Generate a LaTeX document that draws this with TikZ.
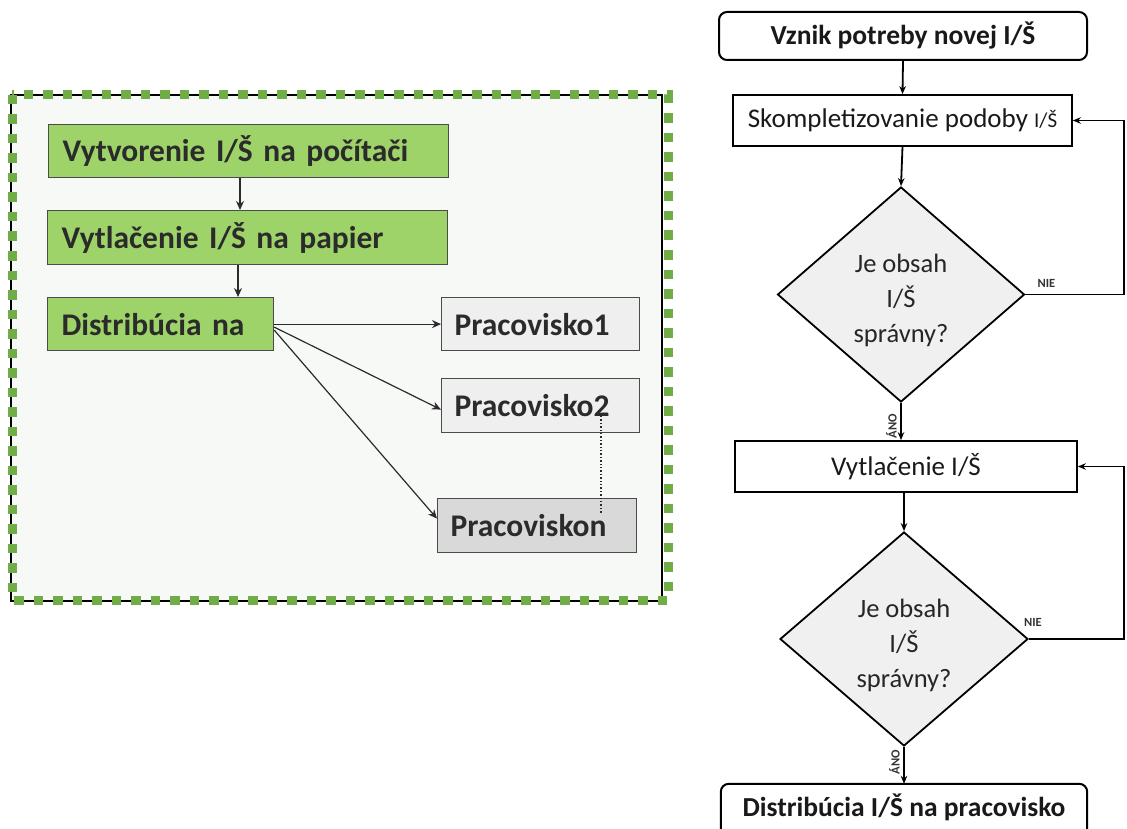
\documentclass[tikz,border=0pt]{standalone}
\usepackage{fontspec}
\setmainfont{Carlito}
\usetikzlibrary{shapes.geometric,arrows.meta,calc}

\definecolor{panelbg}{HTML}{F7F9F7}
\definecolor{leafgreen}{HTML}{9ED36A}
\definecolor{framegreen}{HTML}{70AD47}
\definecolor{inkgray}{HTML}{2B2B2B}
\definecolor{lightbox}{HTML}{EFEFEF}
\definecolor{darkbox}{HTML}{D9D9D9}
\definecolor{diafill}{HTML}{F0F0F0}

\tikzset{
  leftbox/.style={draw=inkgray!85, line width=1.2pt, text=inkgray,
    font=\fontsize{31.5}{36}\selectfont\bfseries, anchor=north west,
    inner xsep=14pt, inner ysep=0pt, align=left},
  greenbox/.style={leftbox, fill=leafgreen},
  workbox/.style={leftbox, fill=lightbox, inner xsep=13pt},
  lastbox/.style={leftbox, fill=darkbox, inner xsep=13pt},
  leftarrow/.style={draw=inkgray, line width=1.2pt, -{Stealth[length=9pt,width=8pt]}},
  flowbox/.style={draw=black, line width=1.7pt, text=black!90, inner sep=0pt,
    font=\fontsize{27}{32}\selectfont},
  termbox/.style={flowbox, rounded corners=8pt, line width=2pt,
    font=\fontsize{27.5}{32}\selectfont\bfseries},
  decision/.style={diamond, draw=black, line width=1.8pt, fill=diafill, inner sep=0pt},
  question/.style={align=center, text=black!85, inner sep=0pt,
    font=\fontsize{26.5}{35}\selectfont},
  flowarrow/.style={draw=black, line width=1.8pt, -{Stealth[length=8pt,width=6.5pt]}},
  looparrow/.style={draw=black, line width=1.7pt, -{Stealth[length=8pt,width=6.5pt]}},
  branch/.style={font=\fontsize{12.5}{13}\selectfont\bfseries, text=black!80, inner sep=0pt},
}

\begin{document}
\begin{tikzpicture}[x=1pt,y=-1pt]
\useasboundingbox (0,0) rectangle (1127,829);
\clip (0,0) rectangle (1127,829);

% ---- left panel: the paper workflow
\fill[panelbg] (11,95) rectangle (662,601);
\draw[black, line width=1.2pt] (11,95) rectangle (662,601);
\draw[framegreen, line width=9pt, dash pattern=on 9.5pt off 10pt] (12,95) rectangle (668,600);

\node[greenbox, minimum width=400pt, minimum height=53pt, text width=372pt]
  (create) at (48,124) {Vytvorenie I/Š na počítači};
\node[greenbox, minimum width=400pt, minimum height=54pt, text width=372pt]
  (print) at (47,210) {Vytlačenie I/Š na papier};
\node[greenbox, minimum width=226pt, minimum height=53pt, text width=198pt]
  (spread) at (47,297) {Distribúcia na};

\node[workbox, minimum width=198pt, minimum height=53pt, text width=172pt]
  (site1) at (441,297) {Pracovisko1};
\node[workbox, minimum width=198pt, minimum height=54pt, text width=172pt]
  (site2) at (441,378) {Pracovisko2};
\node[lastbox, minimum width=199pt, minimum height=54pt, text width=173pt]
  (siten) at (437,498) {Pracoviskon};

\draw[leftarrow] (create.south -| 240,0) -- (print.north -| 240,0);
\draw[leftarrow] (print.south -| 238,0) -- (spread.north -| 238,0);
\draw[leftarrow] (spread.east) -- (site1.west);
\draw[leftarrow] ([yshift=-3pt]spread.east) -- ([yshift=-4pt]site2.west);
\draw[leftarrow] ([yshift=-6pt]spread.east) -- ([yshift=7pt]siten.west);
\coordinate (dotA) at ([yshift=-38pt]site2.north -| 601,0);
\coordinate (dotB) at ([yshift=-16pt]siten.north -| 601,0);
\draw[inkgray, line width=1.4pt, dotted] (dotA) -- (dotB);

% ---- right: decision flowchart
\node[termbox, minimum width=368pt, minimum height=48pt] (start) at (903,36)
  {Vznik potreby novej I/Š};
\node[flowbox, minimum width=339pt, minimum height=51pt] (compose) at (902.5,120.5)
  {Skompletizovanie podoby {\fontsize{21}{24}\selectfont I/Š}};
\node[decision, minimum width=247pt, minimum height=215pt] (check1) at (901,294.5) {};
\node[question] (ask1) at ([yshift=-6pt]check1.center) {Je obsah\\I/Š\\správny?};
\node[flowbox, minimum width=342pt, minimum height=51pt] (printit) at (906,466.5)
  {Vytlačenie I/Š};
\node[decision, minimum width=248pt, minimum height=214pt] (check2) at (904,639) {};
\node[question] (ask2) at ([yshift=-6pt]check2.center) {Je obsah\\I/Š\\správny?};
\node[inner sep=0pt, minimum width=366pt, minimum height=46pt,
  font=\fontsize{27.5}{32}\selectfont\bfseries, text=black!90] (deliver) at (904,807)
  {Distribúcia I/Š na pracovisko};
\draw[black, line width=2pt, rounded corners=8pt]
  ([yshift=-10pt]deliver.south west) -- (deliver.north west) -- (deliver.north east)
  -- ([yshift=-10pt]deliver.south east);

\coordinate (rail) at (1124,0);

\draw[flowarrow] (start.south) -- (compose.north);
\draw[flowarrow] (compose.south) -- (check1.north);
\draw[flowarrow] (check1.south) -- (check1.south |- printit.north);
\draw[flowarrow] (check2.north |- printit.south) -- (check2.north);
\draw[flowarrow] (check2.south) -- (check2.south |- deliver.north);

\draw[looparrow] (check1.east) -- (check1.east -| rail) |- (compose.east);
\draw[looparrow] (check2.east) -- (check2.east -| rail) |- (printit.east);

\node[branch, anchor=south west] (no1) at ([xshift=12pt,yshift=7pt]check1.east) {NIE};
\node[branch, anchor=south west] (no2) at ([xshift=-5pt,yshift=12pt]check2.east) {NIE};
\node[branch, rotate=90, anchor=south] (yes1) at ([xshift=-4pt,yshift=-23pt]check1.south) {ÁNO};
\node[branch, rotate=90, anchor=south] (yes2) at ([xshift=-4pt,yshift=-15pt]check2.south) {ÁNO};
\end{tikzpicture}
\end{document}
